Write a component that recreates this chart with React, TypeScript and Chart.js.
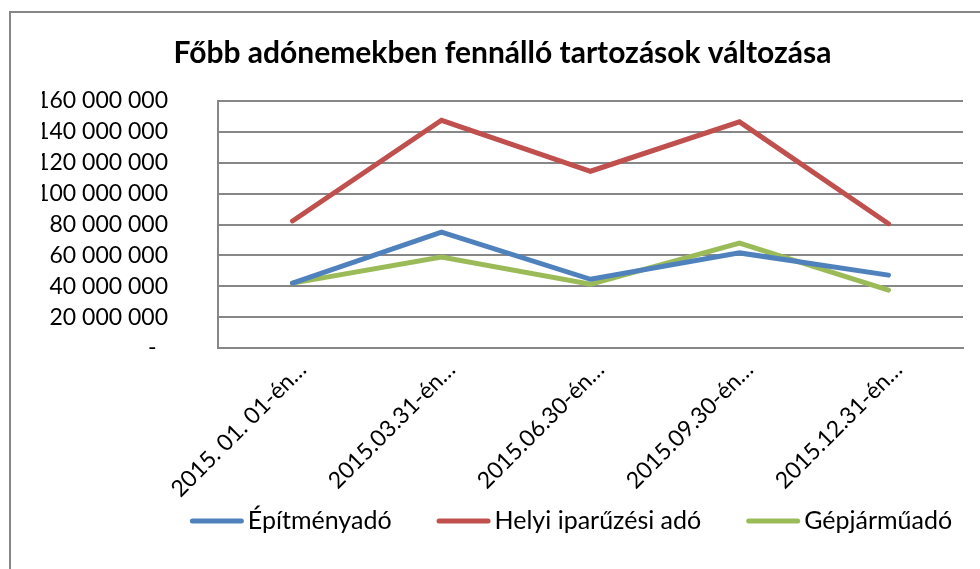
import React, { useEffect, useRef } from 'react';
import { Chart, registerables } from 'chart.js';

Chart.register(...registerables);

const categories = [
  '2015. 01. 01-én…',
  '2015.03.31-én…',
  '2015.06.30-én…',
  '2015.09.30-én…',
  '2015.12.31-én…',
];

const seriesNames = ['Építményadó', 'Helyi iparűzési adó', 'Gépjárműadó'];

const epitmenyado = [42000000, 75000000, 44500000, 61600000, 47200000];
const helyiIparuzesiAdo = [82300000, 147500000, 114500000, 146500000, 80500000];
const gepjarmuado = [42000000, 59000000, 41300000, 68000000, 37500000];

const seriesColors = ['#4F81BD', '#C0504D', '#9BBB59'];

const yMin = 0;
const yMax = 160000000;
const yStep = 20000000;

const chartTitle = 'Főbb adónemekben fennálló tartozások változása';

const FONT = 'Lato, "Open Sans", sans-serif';

function formatNumber(v: number): string {
  if (v === 0) return '-\u2002';
  return String(Math.round(v)).replace(/\B(?=(\d{3})+(?!\d))/g, ' ');
}

const bottomLegend = {
  id: 'bottomLegend',
  afterDraw(chart: any) {
    const ctx = chart.ctx as CanvasRenderingContext2D;
    const ds = chart.data.datasets;
    ctx.save();
    ctx.font = `25px ${FONT}`;
    const lineW = 54;
    const gap = 4;
    const spacing = 45;
    const widths = ds.map((d: any) => lineW + gap + ctx.measureText(d.label).width);
    const total = widths.reduce((a: number, b: number) => a + b, 0) + spacing * (ds.length - 1);
    let x = 571 - total / 2;
    const y = 521;
    ds.forEach((d: any, i: number) => {
      ctx.strokeStyle = d.borderColor;
      ctx.lineWidth = 5;
      ctx.lineCap = 'round';
      ctx.beginPath();
      ctx.moveTo(x + 2.5, y);
      ctx.lineTo(x + lineW - 2.5, y);
      ctx.stroke();
      ctx.fillStyle = '#000';
      ctx.textBaseline = 'middle';
      ctx.textAlign = 'left';
      ctx.fillText(d.label, x + lineW + gap, y);
      x += widths[i] + spacing;
    });
    ctx.restore();
  },
};

export default function App() {
  const canvasRef = useRef<HTMLCanvasElement | null>(null);

  useEffect(() => {
    if (!canvasRef.current) return;
    const values = [epitmenyado, helyiIparuzesiAdo, gepjarmuado];
    const chart = new Chart(canvasRef.current, {
      type: 'line',
      data: {
        labels: categories,
        datasets: seriesNames.map((name, i) => ({
          label: name,
          data: values[i],
          borderColor: seriesColors[i],
          backgroundColor: seriesColors[i],
          borderWidth: 5,
          pointRadius: 0,
          pointHoverRadius: 0,
          tension: 0,
          borderCapStyle: 'round' as const,
          fill: false,
        })),
      },
      options: {
        animation: false,
        responsive: false,
        maintainAspectRatio: false,
        layout: { padding: { left: 42, right: 17, top: 0, bottom: 0 } },
        plugins: {
          legend: { display: false },
          tooltip: { enabled: false },
          title: {
            display: true,
            text: chartTitle,
            color: '#000',
            font: { family: FONT, size: 30, weight: 'bold' },
            padding: { top: 35, bottom: 30 },
          },
        },
        scales: {
          x: {
            offset: true,
            grid: { display: false, drawTicks: false },
            border: { display: true, color: '#878787', width: 2 },
            ticks: {
              color: '#000',
              font: { family: FONT, size: 23 },
              minRotation: 45,
              maxRotation: 45,
              padding: 8,
              labelOffset: 10,
              autoSkip: false,
            },
            afterFit: (scale: any) => {
              scale.height = 221;
            },
          },
          y: {
            min: yMin,
            max: yMax,
            grid: { color: '#878787', lineWidth: 2, drawTicks: false },
            border: { display: true, color: '#878787', width: 2 },
            ticks: {
              stepSize: yStep,
              color: '#000',
              font: { family: FONT, size: 23 },
              padding: 50,
              callback: (v: any) => formatNumber(Number(v)),
            },
            afterFit: (scale: any) => {
              scale.width = 176;
            },
          },
        },
      },
      plugins: [bottomLegend],
    });
    return () => chart.destroy();
  }, []);

  return (
    <div
      style={{
        position: 'fixed',
        left: 0,
        top: 0,
        width: 980,
        height: 569,
        overflow: 'hidden',
        background: '#fff',
      }}
    >
      <div
        style={{
          position: 'absolute',
          left: 9,
          top: 11,
          width: 1000,
          height: 620,
          border: '2px solid #868686',
        }}
      />
      <canvas
        ref={canvasRef}
        width={980}
        height={569}
        style={{ position: 'absolute', left: 0, top: 0, width: 980, height: 569, display: 'block' }}
      />
    </div>
  );
}
